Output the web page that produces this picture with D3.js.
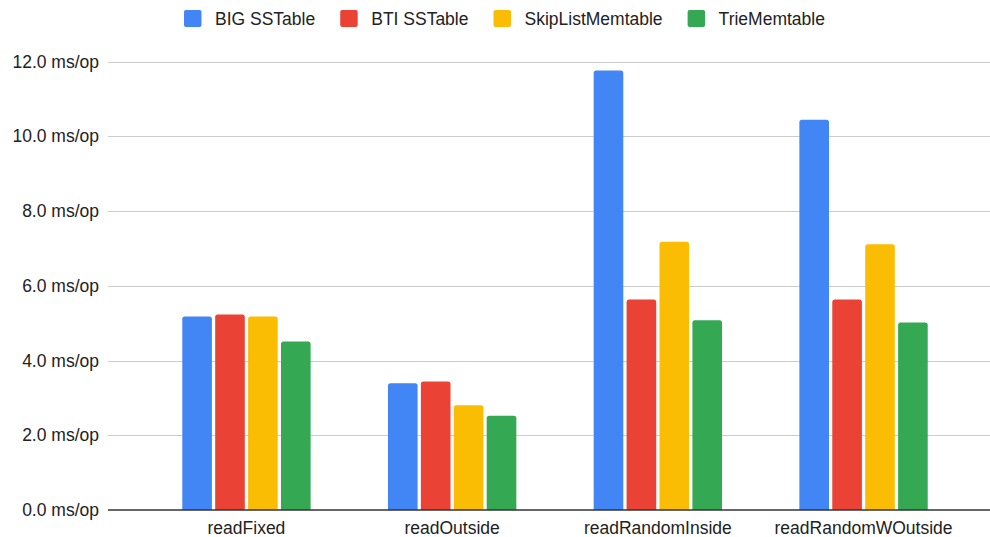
<!DOCTYPE html>
<html>
<head>
<meta charset="utf-8">
<script src="https://cdn.jsdelivr.net/npm/d3@7"></script>
<style>
  html, body { margin: 0; padding: 0; background: #fff; }
  svg { display: block; font-family: "Liberation Sans", Arial, sans-serif; }
</style>
</head>
<body>
<svg id="chart" width="990" height="537"></svg>
<script>
// Benchmark categories and per-implementation latencies (ms/op)
const categories = ["readFixed", "readOutside", "readRandomInside", "readRandomWOutside"];
const seriesNames = ["BIG SSTable", "BTI SSTable", "SkipListMemtable", "TrieMemtable"];
const bigSSTable = [5.18, 3.39, 11.76, 10.44];
const btiSSTable = [5.23, 3.44, 5.63, 5.63];
const skipListMemtable = [5.18, 2.80, 7.18, 7.11];
const trieMemtable = [4.51, 2.52, 5.08, 5.02];
const yTicks = [0, 2, 4, 6, 8, 10, 12];
const colors = ["#4285F4", "#EA4335", "#FBBC04", "#34A853"];

const seriesValues = [bigSSTable, btiSSTable, skipListMemtable, trieMemtable];

const svg = d3.select("#chart");
const W = 990, H = 537;
const plotLeft = 108, plotRight = 990;
const textColor = "#222";
const fontSize = 17.5;

const y = d3.scaleLinear().domain([0, 12]).range([510, 61.5]);

const p = 0.376;
const x0 = d3.scaleBand().domain(categories)
  .range([143.6, 966.4]).paddingInner(p).paddingOuter(p / 2);
const x1 = d3.scaleBand().domain(seriesNames)
  .range([0, x0.bandwidth()]).paddingInner(0.1).paddingOuter(0);

// Gridlines
svg.append("g").selectAll("line")
  .data(yTicks.filter(t => t !== 0))
  .join("line")
  .attr("x1", plotLeft).attr("x2", plotRight)
  .attr("y1", d => Math.round(y(d)) + 0.5).attr("y2", d => Math.round(y(d)) + 0.5)
  .attr("stroke", "#cccccc").attr("stroke-width", 1.2);

// Y tick labels
svg.append("g").selectAll("text")
  .data(yTicks)
  .join("text")
  .attr("x", 99).attr("y", d => y(d))
  .attr("text-anchor", "end").attr("dominant-baseline", "central")
  .attr("font-size", fontSize).attr("fill", textColor)
  .text(d => d3.format(".1f")(d) + " ms/op");

// Bars with rounded top corners
function topRounded(x, yTop, w, yBase, r) {
  const rr = Math.min(r, w / 2, (yBase - yTop));
  return `M${x},${yBase}V${yTop + rr}Q${x},${yTop} ${x + rr},${yTop}` +
         `H${x + w - rr}Q${x + w},${yTop} ${x + w},${yTop + rr}V${yBase}Z`;
}

const barData = [];
categories.forEach((c, i) => {
  seriesNames.forEach((s, j) => {
    barData.push({ cat: c, series: s, value: seriesValues[j][i], color: colors[j] });
  });
});

svg.append("g").selectAll("path")
  .data(barData)
  .join("path")
  .attr("d", d => topRounded(x0(d.cat) + x1(d.series), y(d.value), x1.bandwidth(), y(0), 2.5))
  .attr("fill", d => d.color);

// Baseline
svg.append("line")
  .attr("x1", plotLeft).attr("x2", plotRight)
  .attr("y1", y(0)).attr("y2", y(0))
  .attr("stroke", "#333").attr("stroke-width", 1.3);

// X category labels
svg.append("g").selectAll("text")
  .data(categories)
  .join("text")
  .attr("x", d => x0(d) + x0.bandwidth() / 2).attr("y", 528)
  .attr("text-anchor", "middle").attr("dominant-baseline", "central")
  .attr("font-size", fontSize).attr("fill", textColor)
  .text(d => d);

// Legend
const legend = svg.append("g");
let lx = 184;
seriesNames.forEach((s, j) => {
  legend.append("rect")
    .attr("x", lx).attr("y", 10).attr("width", 17.5).attr("height", 17)
    .attr("rx", 2).attr("fill", colors[j]);
  const t = legend.append("text")
    .attr("x", lx + 31).attr("y", 18.5)
    .attr("dominant-baseline", "central")
    .attr("font-size", fontSize).attr("fill", textColor)
    .text(s);
  lx += 31 + t.node().getComputedTextLength() + 25;
});
</script>
</body>
</html>
